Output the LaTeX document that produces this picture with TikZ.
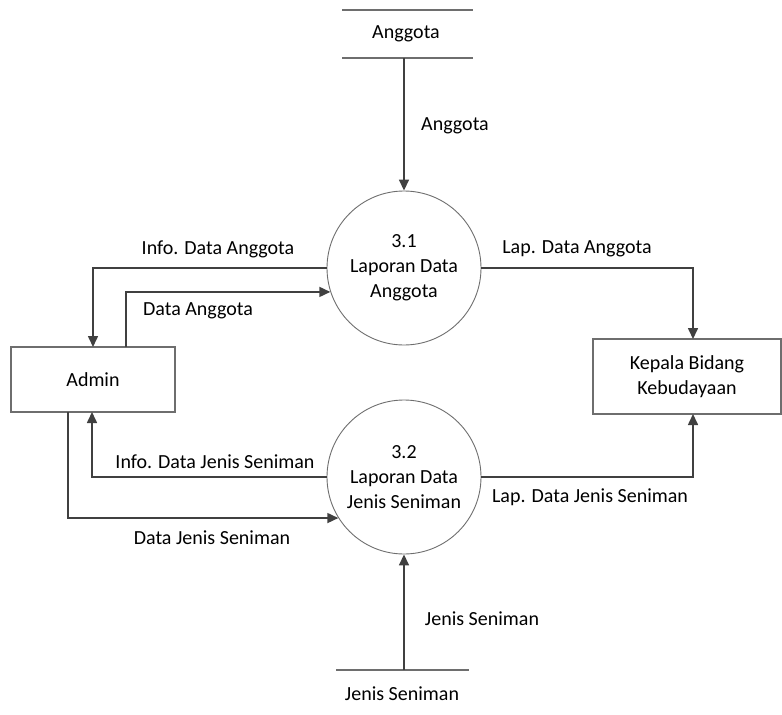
\documentclass[tikz,border=0pt]{standalone}
\usepackage{fontspec}
\setmainfont{Carlito}
\usetikzlibrary{arrows.meta}
\definecolor{linec}{HTML}{404040}
\definecolor{shapec}{HTML}{6E6E6E}
\tikzset{
  flow/.style={draw=linec, line width=1.6pt, -{Triangle[length=11pt,width=10pt]}},
  plainflow/.style={draw=linec, line width=1.6pt},
  proc/.style={circle, draw=shapec, line width=0.9pt, minimum size=154pt, inner sep=0pt, align=center},
  ent/.style={rectangle, draw=shapec, line width=1.1pt, inner sep=0pt, align=center},
  lbl/.style={inner sep=0pt, align=center},
  storeline/.style={draw=shapec, line width=1.1pt}
}
\begin{document}
\begin{tikzpicture}[x=1pt, y=-1pt, font=\fontsize{20}{25}\selectfont, text=black]
\useasboundingbox (0,0) rectangle (782,715);
% data store Anggota
\draw[storeline] (342,10) -- (473,10);
\draw[storeline] (342,58) -- (473,58);
\node[lbl] (s1) at (406,34) {Anggota};
\coordinate (s1b) at (404,58);
% data store Jenis Seniman
\draw[storeline] (336,670) -- (469,670);
\node[lbl] (s2) at (402,694) {Jenis Seniman};
\coordinate (s2t) at (404,670);
% processes
\node[proc] (c1) at (404,268) {3.1\\Laporan Data\\Anggota};
\node[proc] (c2) at (404,477) {3.2\\Laporan Data\\Jenis Seniman};
% entities
\node[ent, minimum width=164pt, minimum height=65pt] (adm) at (93,379.5) {Admin};
\node[ent, minimum width=188pt, minimum height=75pt] (kep) at (687,376.5) {Kepala Bidang\\Kebudayaan};
% connector end points
\coordinate (a1) at (126,347);
\coordinate (a2) at (93,347);
\coordinate (a3) at (92,412);
\coordinate (a4) at (68,412);
\coordinate (k1) at (693,339);
\coordinate (k2) at (693,414);
% flows
\draw[flow] (s1b) -- (c1.north);
\draw[flow] (s2t) -- (c2.south);
\draw[flow] (c1.west) -| (a2);
\draw[flow] (a1) |- (c1.198.2);
\draw[flow] (c1.east) -| (k1);
\draw[flow] (c2.west) -| (a3);
\draw[flow] (a4) |- (c2.212.2);
\draw[flow] (c2.east) -| (k2);
% labels
\node[lbl] at (455,126) {Anggota};
\node[lbl] at (218,249) {Info. Data Anggota};
\node[lbl] at (198,311) {Data Anggota};
\node[lbl] at (577,249) {Lap. Data Anggota};
\node[lbl] at (215,462) {Info. Data Jenis Seniman};
\node[lbl] at (212,538) {Data Jenis Seniman};
\node[lbl] at (590,497) {Lap. Data Jenis Seniman};
\node[lbl] at (482,619) {Jenis Seniman};
\end{tikzpicture}
\end{document}
